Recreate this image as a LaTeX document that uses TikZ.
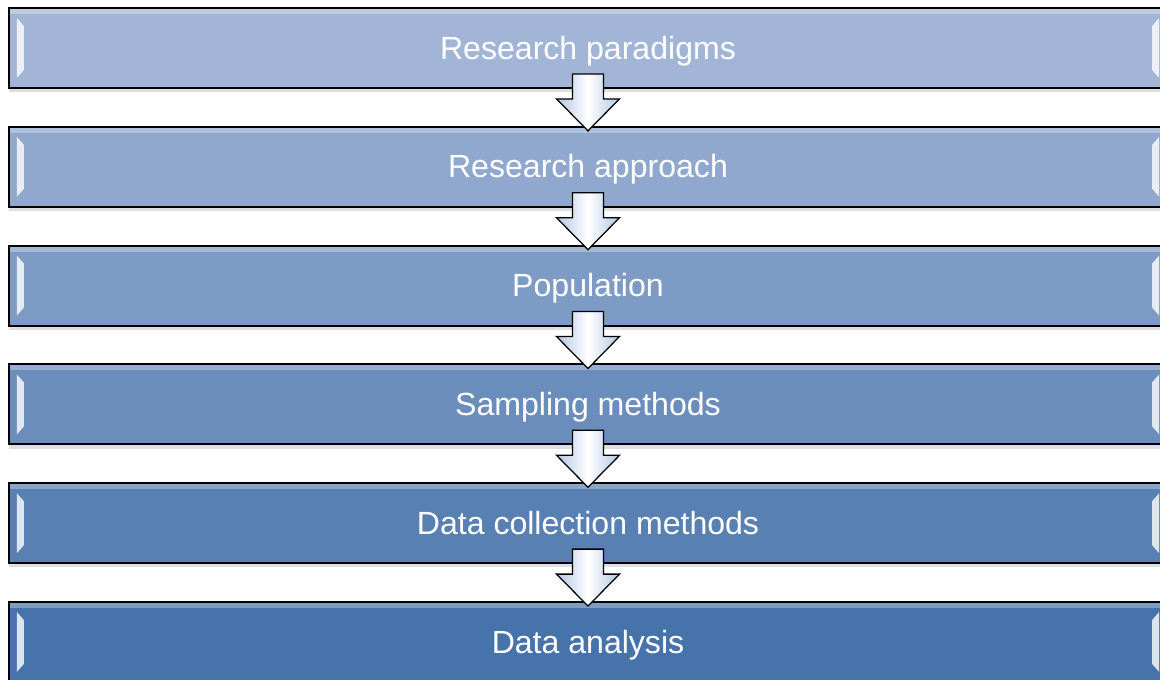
\documentclass[tikz,border=0pt]{standalone}
\usepackage{fontspec}
\setmainfont{Liberation Sans}
\usetikzlibrary{positioning, calc, shadows}

\definecolor{stageA}{RGB}{162,181,214}
\definecolor{stageB}{RGB}{144,168,205}
\definecolor{stageC}{RGB}{125,155,196}
\definecolor{stageD}{RGB}{107,141,188}
\definecolor{stageE}{RGB}{88,128,179}
\definecolor{stageF}{RGB}{70,115,170}
\definecolor{arrowblue}{RGB}{178,198,228}

\tikzset{
	stagebox/.style={draw=black, line width=1.3pt, inner sep=0pt,
		minimum width=28.95cm, minimum height=2cm,
		fill=#1,
		drop shadow={opacity=.25, shadow xshift=0pt, shadow yshift=-3pt},
		text=white, font=\fontsize{22.8}{27}\selectfont,
		text height=0.725cm, text depth=0.17cm,
		path picture={
			\fill[white, opacity=.3] ($(path picture bounding box.north west)+(0,-1)$)
				rectangle ($(path picture bounding box.north east)+(0,-6)$);
			\fill[white, opacity=.8] ($(path picture bounding box.north west)+(8,-10)$)
				-- ++(0,-60) -- ++(7,8) -- ++(0,44) -- cycle;
			\fill[white, opacity=.8] ($(path picture bounding box.north east)+(-8,-10)$)
				-- ++(0,-60) -- ++(-7,8) -- ++(0,44) -- cycle;
		}},
	flowarrow/.style={draw=black, line width=0.9pt, line join=miter,
		left color=arrowblue, right color=arrowblue, middle color=white}
}

% block arrow from one stage to the next
\newcommand{\stagearrow}[2]{%
	\draw[flowarrow] ($(#1.south)+(-15.5,15)$) -- ($(#1.south)+(-15.5,-10)$)
		-- ($(#1.south)+(-31.5,-10)$) -- ($(#2.north)+(0,-5)$)
		-- ($(#1.south)+(31.5,-10)$) -- ($(#1.south)+(15.5,-10)$)
		-- ($(#1.south)+(15.5,15)$) -- cycle;}

\begin{document}
\begin{tikzpicture}[x=0.025cm, y=0.025cm]
	\useasboundingbox (0,0) rectangle (1160,679);
	
	% Stages
	\node[stagebox=stageA] (paradigms) at (588,631) {Research paradigms};
	\node[stagebox=stageB] (approach) at ($(paradigms) + (0,-118.8)$) {Research approach};
	\node[stagebox=stageC] (population) at ($(approach) + (0,-118.8)$) {Population};
	\node[stagebox=stageD] (sampling) at ($(population) + (0,-118.8)$) {Sampling methods};
	\node[stagebox=stageE] (collection) at ($(sampling) + (0,-118.8)$) {Data collection methods};
	\node[stagebox=stageF] (analysis) at ($(collection) + (0,-118.8)$) {Data analysis};
	
	% Arrows
	\stagearrow{paradigms}{approach}
	\stagearrow{approach}{population}
	\stagearrow{population}{sampling}
	\stagearrow{sampling}{collection}
	\stagearrow{collection}{analysis}
\end{tikzpicture}
\end{document}
